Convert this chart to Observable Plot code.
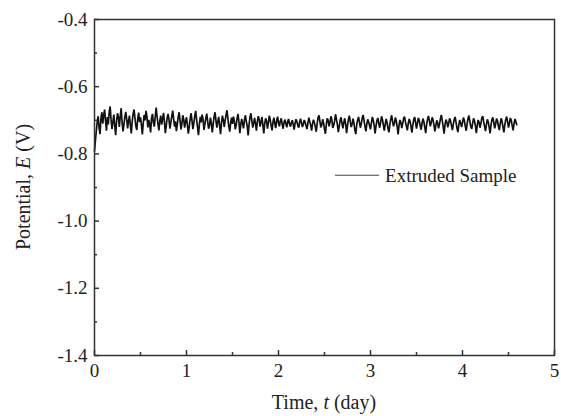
<!DOCTYPE html>
<html>
<head>
<meta charset="utf-8">
<script src="https://cdn.jsdelivr.net/npm/d3@7"></script>
<script src="https://cdn.jsdelivr.net/npm/@observablehq/plot@0.6"></script>
<style>
  html, body { margin: 0; padding: 0; background: #fff; }
  #chart svg { display: block; }
</style>
</head>
<body>
<div id="chart"></div>
<script>
// ---- data ----
const seriesName = "Extruded Sample";
const tStart = 0;      // day
const tStep = 0.01;    // day between readings
// potential readings in mV
const potentialMV = [
  -792, -760, -731, -704, -688, -722, -741, -695, -676, -710,
  -684, -668, -702, -731, -690, -712, -674, -659, -698, -726,
  -705, -683, -716, -744, -702, -679, -691, -720, -688, -664,
  -706, -733, -712, -690, -675, -697, -724, -701, -686, -715,
  -739, -703, -680, -668, -694, -718, -729, -696, -677, -705,
  -691, -714, -742, -708, -684, -700, -672, -689, -721, -699,
  -712, -736, -694, -681, -707, -719, -690, -662, -688, -711,
  -730, -702, -686, -713, -697, -678, -704, -738, -716, -693,
  -681, -699, -725, -707, -688, -671, -695, -719, -703, -732,
  -712, -690, -676, -701, -727, -710, -685, -698, -722, -704,
  -691, -714, -740, -718, -695, -679, -702, -726, -708, -687,
  -672, -699, -721, -744, -712, -690, -706, -683, -697, -729,
  -711, -694, -680, -703, -725, -716, -692, -708, -736, -713,
  -689, -676, -700, -722, -704, -690, -715, -741, -709, -686,
  -698, -720, -701, -684, -670, -696, -718, -734, -707, -692,
  -711, -689, -702, -727, -715, -694, -681, -705, -738, -712,
  -696, -710, -724, -699, -685, -703, -717, -745, -713, -691,
  -679, -700, -722, -708, -693, -711, -731, -704, -688, -697,
  -719, -706, -690, -714, -739, -710, -694, -702, -725, -708,
  -686, -699, -716, -730, -705, -692, -710, -723, -701, -689,
  -708, -718, -702, -694, -712, -725, -706, -698, -710, -721,
  -704, -696, -711, -719, -707, -700, -713, -728, -709, -697,
  -703, -716, -722, -705, -695, -708, -720, -711, -699, -706,
  -717, -726, -708, -692, -704, -715, -731, -710, -698, -707,
  -719, -734, -711, -692, -685, -703, -721, -714, -697, -708,
  -726, -740, -712, -694, -701, -718, -706, -688, -699, -723,
  -715, -702, -682, -697, -713, -735, -718, -700, -691, -709,
  -724, -707, -694, -711, -738, -716, -698, -686, -704, -720,
  -712, -695, -708, -729, -741, -714, -699, -690, -706, -722,
  -710, -693, -684, -702, -719, -733, -711, -697, -705, -716,
  -727, -708, -690, -700, -715, -739, -717, -701, -693, -710,
  -722, -706, -688, -698, -714, -731, -712, -696, -707, -724,
  -736, -713, -697, -685, -703, -718, -709, -692, -701, -720,
  -742, -715, -699, -706, -723, -710, -694, -689, -705, -717,
  -730, -711, -696, -703, -719, -737, -714, -698, -690, -707,
  -725, -709, -693, -700, -716, -728, -710, -695, -704, -721,
  -738, -712, -697, -687, -702, -718, -707, -691, -699, -715,
  -733, -716, -700, -708, -724, -711, -696, -684, -701, -719,
  -740, -713, -698, -705, -721, -709, -694, -702, -716, -729,
  -712, -697, -690, -706, -723, -735, -714, -699, -708, -720,
  -707, -692, -700, -717, -731, -711, -695, -686, -703, -719,
  -726, -709, -694, -702, -715, -738, -716, -699, -706, -722,
  -710, -693, -688, -704, -718, -732, -712, -697, -705, -721,
  -739, -714, -698, -691, -707, -724, -711, -695, -701, -717,
  -729, -710, -694, -703, -720, -736, -713, -698, -689, -705,
  -722, -708, -693, -700, -716, -730, -711, -696, -704, -713
];
const xTicks = [0, 1, 2, 3, 4, 5];
const xMinorTicks = [0.5, 1.5, 2.5, 3.5, 4.5];
const yTicks = [-0.4, -0.6, -0.8, -1.0, -1.2, -1.4];
const yMinorTicks = [-0.5, -0.7, -0.9, -1.1, -1.3];
const xDomain = [0, 5];
const yDomain = [-1.4, -0.4];

const data = potentialMV.map((mv, i) => ({ t: tStart + i * tStep, E: mv / 1000 }));

const font = "'Liberation Serif', 'DejaVu Serif', serif";
const ink = "#222";

const plot = Plot.plot({
  width: 561,
  height: 416,
  marginLeft: 94,
  marginRight: 7,
  marginTop: 19,
  marginBottom: 61,
  x: { domain: xDomain },
  y: { domain: yDomain },
  style: { fontFamily: font, fontSize: "19px", color: ink, background: "#fff", overflow: "visible" },
  marks: [
    Plot.line(data, { x: "t", y: "E", stroke: "#111", strokeWidth: 1.7, strokeLinejoin: "miter" }),
    Plot.axisX(xTicks, { tickSize: -5, text: null, label: null, stroke: "#333", strokeWidth: 1.5 }),
    Plot.axisX(xMinorTicks, { tickSize: -3, text: null, label: null, stroke: "#333", strokeWidth: 1.5 }),
    Plot.axisX(xTicks, { tickSize: 0, tickPadding: 8, label: null, tickFormat: d => String(d), fill: ink }),
    Plot.axisY(yTicks, { tickSize: -5, text: null, label: null, stroke: "#333", strokeWidth: 1.5 }),
    Plot.axisY(yMinorTicks, { tickSize: -3, text: null, label: null, stroke: "#333", strokeWidth: 1.5 }),
    Plot.axisY(yTicks, { tickSize: 0, tickPadding: 7, label: null, tickFormat: d => d.toFixed(1), fill: ink }),
    Plot.frame({ stroke: "#333", strokeWidth: 1.5 })
  ]
});

document.getElementById("chart").appendChild(plot);

// ---- axis titles with italic symbols, and the legend ----
const svg = d3.select(plot);
const xs = plot.scale("x"), ys = plot.scale("y");

const xt = svg.append("text")
  .attr("x", (xs.apply(xDomain[0]) + xs.apply(xDomain[1])) / 2)
  .attr("y", 409)
  .attr("text-anchor", "middle")
  .attr("font-family", font).attr("font-size", 20).attr("fill", ink);
xt.append("tspan").text("Time, ");
xt.append("tspan").attr("font-style", "italic").text("t");
xt.append("tspan").text(" (day)");

const yt = svg.append("text")
  .attr("transform", `translate(30,${(ys.apply(yDomain[0]) + ys.apply(yDomain[1])) / 2}) rotate(-90)`)
  .attr("text-anchor", "middle")
  .attr("font-family", font).attr("font-size", 20).attr("fill", ink);
yt.append("tspan").text("Potential, ");
yt.append("tspan").attr("font-style", "italic").text("E");
yt.append("tspan").text(" (V)");

// legend
const legY = ys.apply(-0.865);
const legX0 = xs.apply(2.62);
svg.append("line")
  .attr("x1", legX0).attr("x2", legX0 + 44)
  .attr("y1", legY).attr("y2", legY)
  .attr("stroke", "#444").attr("stroke-width", 1);
svg.append("text")
  .attr("x", legX0 + 50).attr("y", legY)
  .attr("dy", "0.35em")
  .attr("text-anchor", "start")
  .attr("font-family", font).attr("font-size", 19).attr("fill", ink)
  .text(seriesName);
</script>
</body>
</html>
